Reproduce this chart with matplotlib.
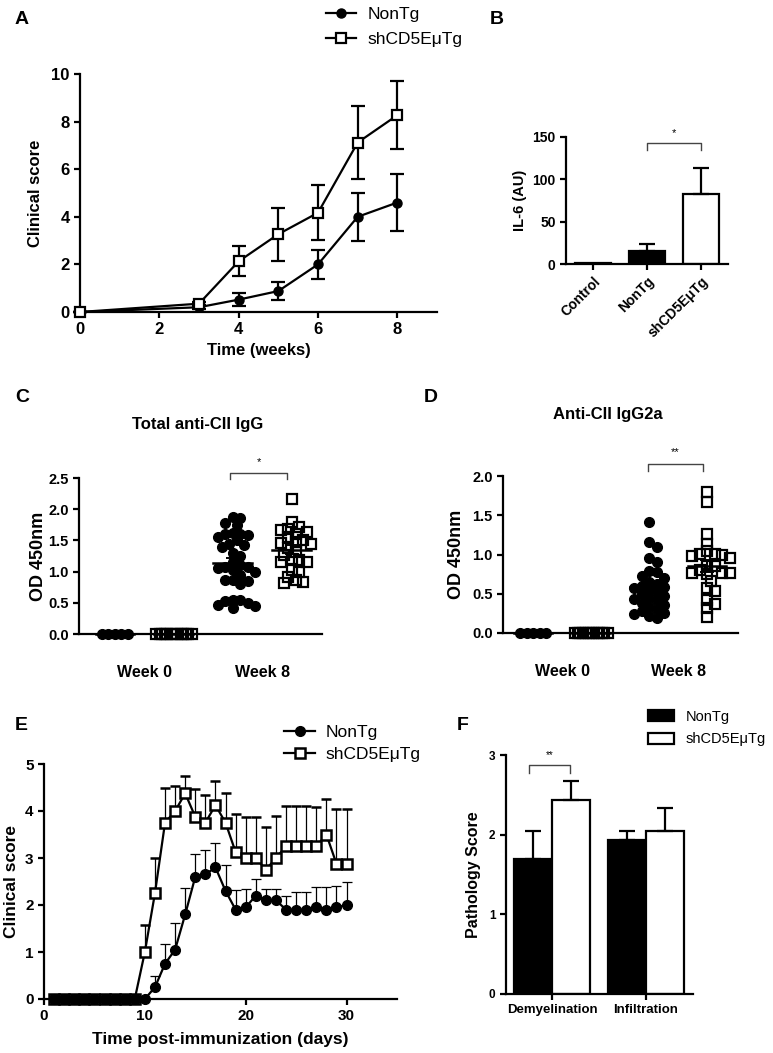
import numpy as np
import matplotlib
matplotlib.use('Agg')
import matplotlib.pyplot as plt
from matplotlib.lines import Line2D
from matplotlib.patches import Patch

# ---- A: clinical score (weeks)
a_weeks = [0, 3, 4, 5, 6, 7, 8]
a_nontg = [0, 0.2, 0.52, 0.88, 2.0, 4.0, 4.6]
a_nontg_err = [0, 0.08, 0.28, 0.38, 0.6, 1.02, 1.19]
a_sh = [0, 0.35, 2.13, 3.27, 4.17, 7.12, 8.27]
a_sh_err = [0, 0.08, 0.63, 1.12, 1.15, 1.53, 1.43]

# ---- B: IL-6
b_groups = ['Control', 'NonTg', 'shCD5EμTg']
b_vals = [1, 15, 83]
b_err = [0, 9, 30]

# ---- C: total anti-CII IgG
c_nontg_w0 = [0, 0, 0, 0, 0]
c_sh_w0 = [0, 0, 0, 0, 0, 0, 0, 0, 0, 0, 0, 0, 0]
c_nontg_w8 = [1.87, 1.86, 1.78, 1.75, 1.62, 1.61, 1.6, 1.58, 1.55, 1.5, 1.45, 1.43,
              1.4, 1.3, 1.25, 1.15, 1.1, 1.08, 1.07, 1.05, 1.02, 1.0, 0.95, 0.87,
              0.86, 0.85, 0.8, 0.55, 0.54, 0.53, 0.5, 0.47, 0.45, 0.42]
c_sh_w8 = [2.17, 1.8, 1.72, 1.68, 1.66, 1.64, 1.6, 1.55, 1.5, 1.47, 1.46, 1.44,
           1.38, 1.32, 1.27, 1.2, 1.18, 1.16, 1.15, 1.03, 1.0, 0.92, 0.87, 0.84, 0.81]

# ---- D: anti-CII IgG2a
d_nontg_w0 = [0, 0, 0, 0, 0]
d_sh_w0 = [0, 0, 0, 0, 0, 0, 0, 0, 0, 0, 0, 0, 0]
d_nontg_w8 = [1.42, 1.16, 1.1, 0.95, 0.9, 0.79, 0.78, 0.72, 0.7, 0.65, 0.62, 0.6,
              0.59, 0.57, 0.55, 0.52, 0.5, 0.47, 0.45, 0.43, 0.42, 0.38, 0.36, 0.33,
              0.3, 0.28, 0.26, 0.24, 0.22, 0.19]
d_sh_w8 = [1.8, 1.67, 1.26, 1.14, 1.04, 1.01, 1.01, 1.0, 0.98, 0.95, 0.85, 0.85,
           0.8, 0.77, 0.77, 0.77, 0.75, 0.66, 0.57, 0.53, 0.42, 0.37, 0.32, 0.21]

# ---- E: clinical score (days)
e_days = list(range(1, 31))
e_nontg = [0, 0, 0, 0, 0, 0, 0, 0, 0, 0, 0.25, 0.75, 1.05, 1.8, 2.6, 2.65, 2.8, 2.3,
           1.9, 1.95, 2.2, 2.1, 2.1, 1.9, 1.9, 1.9, 1.95, 1.9, 1.95, 2.0]
e_nontg_err = [0, 0, 0, 0, 0, 0, 0, 0, 0, 0, 0.25, 0.43, 0.56, 0.57, 0.48, 0.51, 0.51,
               0.55, 0.42, 0.4, 0.35, 0.25, 0.25, 0.3, 0.38, 0.38, 0.43, 0.48, 0.45, 0.48]
e_sh = [0, 0, 0, 0, 0, 0, 0, 0, 0, 1.0, 2.25, 3.75, 4.0, 4.375, 3.875, 3.75, 4.125,
        3.75, 3.125, 3.0, 3.0, 2.75, 3.0, 3.25, 3.25, 3.25, 3.25, 3.5, 2.875, 2.875]
e_sh_err = [0, 0, 0, 0, 0, 0, 0, 0, 0, 0.57, 0.76, 0.73, 0.54, 0.37, 0.59, 0.59, 0.52,
            0.63, 0.82, 0.87, 0.87, 0.92, 0.89, 0.85, 0.85, 0.85, 0.83, 0.75, 1.16, 1.16]

# ---- F: pathology
f_cats = ['Demyelination', 'Infiltration']
f_nontg = [1.7, 1.93]
f_nontg_err = [0.35, 0.12]
f_sh = [2.44, 2.05]
f_sh_err = [0.23, 0.28]

W, H = 773, 1053
plt.rcParams['font.family'] = ['Liberation Sans', 'DejaVu Sans']
plt.rcParams['font.weight'] = 'bold'
plt.rcParams['axes.labelweight'] = 'bold'
LW = 1.6

fig = plt.figure(figsize=(W / 100, H / 100), dpi=100)


def box(l, t, r, b):
    return [l / W, 1 - b / H, (r - l) / W, (b - t) / H]


def style(ax, fs):
    for s in ['top', 'right']:
        ax.spines[s].set_visible(False)
    for s in ['left', 'bottom']:
        ax.spines[s].set_linewidth(LW)
    ax.tick_params(width=LW, length=4, labelsize=fs)


def bracket(ax, x1, x2, y, h, txt, ty, fs=8):
    ax.plot([x1, x1, x2, x2], [y - h, y, y, y - h], color='#444444', lw=1, clip_on=False)
    ax.text((x1 + x2) / 2, ty, txt, ha='center', va='center', fontsize=fs,
            fontweight='normal', clip_on=False)


def swarm(ax, x0, vals, dist):
    tr = ax.transData
    placed = []
    xs = np.zeros(len(vals))
    for i in np.argsort(vals)[::-1]:
        px, py = tr.transform((x0, vals[i]))
        k = 0
        while True:
            off = ((k + 1) // 2) * dist * 0.5 * (1 if k % 2 else -1) if k else 0
            if all((px + off - qx) ** 2 + (py - qy) ** 2 >= dist ** 2 for qx, qy in placed):
                break
            k += 1
        placed.append((px + off, py))
        xs[i] = tr.inverted().transform((px + off, py))[0]
    return xs


# ================= A
axA = fig.add_axes(box(80, 74, 437, 312))
axA.errorbar(a_weeks, a_nontg, yerr=a_nontg_err, fmt='-o', color='k', ms=6.5, lw=LW,
             capsize=5, capthick=LW, elinewidth=LW, clip_on=False, zorder=3)
axA.errorbar(a_weeks, a_sh, yerr=a_sh_err, fmt='-s', color='k', mfc='white', mec='k',
             ms=7.5, mew=LW, lw=LW, capsize=5, capthick=LW, elinewidth=LW,
             clip_on=False, zorder=3)
axA.set_xlim(0, 9)
axA.set_ylim(0, 10)
axA.set_xticks([0, 2, 4, 6, 8])
axA.set_yticks([0, 2, 4, 6, 8, 10])
style(axA, 12)
axA.set_xlabel('Time (weeks)', fontsize=12, labelpad=4)
axA.set_ylabel('Clinical score', fontsize=12, labelpad=6)
hA = [Line2D([], [], color='k', marker='o', ms=6.5, lw=LW),
      Line2D([], [], color='k', marker='s', mfc='white', ms=7.5, mew=LW, lw=LW)]
axA.legend(hA, ['NonTg', 'shCD5EμTg'], loc='center left',
           bbox_to_anchor=(326 / W, 1 - 27 / H), bbox_transform=fig.transFigure,
           frameon=False, prop={'size': 12.5, 'weight': 'normal'}, handlelength=1.7,
           handletextpad=0.7, labelspacing=0.55, borderpad=0, borderaxespad=0)

# ================= B
axB = fig.add_axes(box(566, 137, 728, 264))
bx = np.arange(len(b_groups))
axB.bar(bx, b_vals, width=0.68, color=['white', 'black', 'white'], edgecolor='k', lw=LW)
axB.errorbar(bx[1:], b_vals[1:], yerr=[[0] * 2, b_err[1:]], fmt='none', ecolor='k',
             capsize=6, capthick=LW, elinewidth=LW)
axB.set_xlim(-0.5, 2.5)
axB.set_ylim(0, 150)
axB.set_yticks([0, 50, 100, 150])
axB.set_xticks(bx)
axB.set_xticklabels(b_groups, rotation=45, ha='right', rotation_mode='anchor')
style(axB, 10)
axB.tick_params(axis='x', labelsize=10)
axB.set_ylabel('IL-6 (AU)', fontsize=10.5, labelpad=4)
bracket(axB, 1, 2, 143, 8, '*', 155)


# ================= C, D
def scatter_panel(ax, w0n, w0s, w8n, w8s, xlim, ylim, yticks, lab_x):
    ax.set_xlim(*xlim)
    ax.set_ylim(*ylim)
    groups = [(w0n, 'o', 6.5), (w0s, 's', 2.2), (w8n, 'o', 7.5), (w8s, 's', 7.5)]
    for gx, (vals, mk, dist) in enumerate(groups):
        xs = swarm(ax, gx, vals, dist)
        if mk == 'o':
            ax.plot(xs, vals, 'o', color='k', ms=7, ls='none', clip_on=False, zorder=3)
        else:
            ax.plot(xs, vals, 's', mfc='none', mec='k', ms=7, mew=1.6, ls='none',
                    clip_on=False, zorder=3)
        m = np.mean(vals)
        sem = np.std(vals, ddof=1) / np.sqrt(len(vals)) if np.std(vals) > 0 else 0
        ax.plot([gx - 0.33, gx + 0.33], [m, m], color='k', lw=1.8, zorder=4, clip_on=False)
        if sem > 0:
            ax.errorbar(gx, m, yerr=sem, fmt='none', ecolor='k', capsize=5, elinewidth=1.4,
                        capthick=1.4, zorder=4)
    ax.set_yticks(yticks)
    ax.set_yticklabels(['%.1f' % t for t in yticks])
    ax.set_xticks([0.5, 2.5])
    ax.set_xticklabels(['Week 0', 'Week 8'])
    style(ax, 10.5)
    ax.tick_params(axis='x', length=0, pad=22, labelsize=11.5)
    ax.set_ylabel('OD 450nm', fontsize=13)
    ax.yaxis.set_label_coords(lab_x, 0.5)


axC = fig.add_axes(box(79, 478, 322, 634))
scatter_panel(axC, c_nontg_w0, c_sh_w0, c_nontg_w8, c_sh_w8, (-0.61, 3.51), (0, 2.5),
              [0, 0.5, 1.0, 1.5, 2.0, 2.5], -0.13)
bracket(axC, 1.95, 2.92, 2.58, 0.1, '*', 2.75)
fig.text(198 / W, 1 - 425 / H, 'Total anti-CII IgG', ha='center', va='center', fontsize=12)

axD = fig.add_axes(box(503, 476, 738, 633))
scatter_panel(axD, d_nontg_w0, d_sh_w0, d_nontg_w8, d_sh_w8, (-0.52, 3.53), (0, 2.0),
              [0, 0.5, 1.0, 1.5, 2.0], -0.16)
bracket(axD, 1.98, 2.93, 2.15, 0.08, '**', 2.3)
fig.text(608 / W, 1 - 415 / H, 'Anti-CII IgG2a', ha='center', va='center', fontsize=12)

# ================= E
axE = fig.add_axes(box(44, 764, 397, 999))
axE.errorbar(e_days, e_nontg, yerr=[np.zeros(len(e_days)), e_nontg_err], fmt='-o',
             color='k', ms=7, lw=LW, elinewidth=0.9, capsize=3.5, capthick=0.9,
             clip_on=False, zorder=4)
axE.errorbar(e_days, e_sh, yerr=[np.zeros(len(e_days)), e_sh_err], fmt='-s', color='k',
             mfc='white', mec='k', ms=7.5, mew=1.8, lw=LW, elinewidth=0.9, capsize=3.5,
             capthick=0.9, clip_on=False, zorder=3)
axE.set_xlim(0, 35)
axE.set_ylim(0, 5)
axE.set_xticks([0, 10, 20, 30])
axE.set_yticks([0, 1, 2, 3, 4, 5])
style(axE, 11)
axE.set_xlabel('Time post-immunization (days)', fontsize=12.5, labelpad=6)
axE.set_ylabel('Clinical score', fontsize=12.5)
axE.yaxis.set_label_coords(-0.07, 0.5)
hE = [Line2D([], [], color='k', marker='o', ms=7, lw=LW),
      Line2D([], [], color='k', marker='s', mfc='white', ms=7.5, mew=1.8, lw=LW)]
axE.legend(hE, ['NonTg', 'shCD5EμTg'], loc='center left',
           bbox_to_anchor=(284 / W, 1 - 743.5 / H), bbox_transform=fig.transFigure,
           frameon=False, prop={'size': 12.5, 'weight': 'normal'}, handlelength=1.8,
           handletextpad=0.6, labelspacing=0.4, borderpad=0, borderaxespad=0)

# ================= F
axF = fig.add_axes(box(506, 755, 693, 994))
fx = np.arange(len(f_cats))
axF.bar(fx - 0.2, f_nontg, width=0.4, color='black', edgecolor='k', lw=LW)
axF.bar(fx + 0.2, f_sh, width=0.4, color='white', edgecolor='k', lw=LW)
axF.errorbar(fx - 0.2, f_nontg, yerr=[[0, 0], f_nontg_err], fmt='none', ecolor='k',
             capsize=6, capthick=LW, elinewidth=LW)
axF.errorbar(fx + 0.2, f_sh, yerr=[[0, 0], f_sh_err], fmt='none', ecolor='k',
             capsize=6, capthick=LW, elinewidth=LW)
axF.set_xlim(-0.49, 1.5)
axF.set_ylim(0, 3)
axF.set_yticks([0, 1, 2, 3])
axF.set_xticks(fx)
axF.set_xticklabels(f_cats)
style(axF, 8.5)
axF.tick_params(axis='x', labelsize=9.5)
axF.set_ylabel('Pathology Score', fontsize=11.5, labelpad=6)
bracket(axF, -0.245, 0.19, 2.87, 0.1, '**', 3.0, fs=7)
hF = [Patch(facecolor='black', edgecolor='k', lw=LW),
      Patch(facecolor='white', edgecolor='k', lw=LW)]
axF.legend(hF, ['NonTg', 'shCD5EμTg'], loc='center left',
           bbox_to_anchor=(648 / W, 1 - 728 / H), bbox_transform=fig.transFigure,
           frameon=False, prop={'size': 10.5, 'weight': 'normal'}, handlelength=1.8,
           handleheight=0.75, handletextpad=0.8, labelspacing=0.6, borderpad=0,
           borderaxespad=0)

# panel letters
for lab, x, y in [('A', 15, 20), ('B', 490, 20), ('C', 15, 398), ('D', 424, 398),
                  ('E', 15, 725), ('F', 457, 725)]:
    fig.text(x / W, 1 - y / H, lab, ha='left', va='center', fontsize=14)

fig.savefig('out.png', dpi=100)
